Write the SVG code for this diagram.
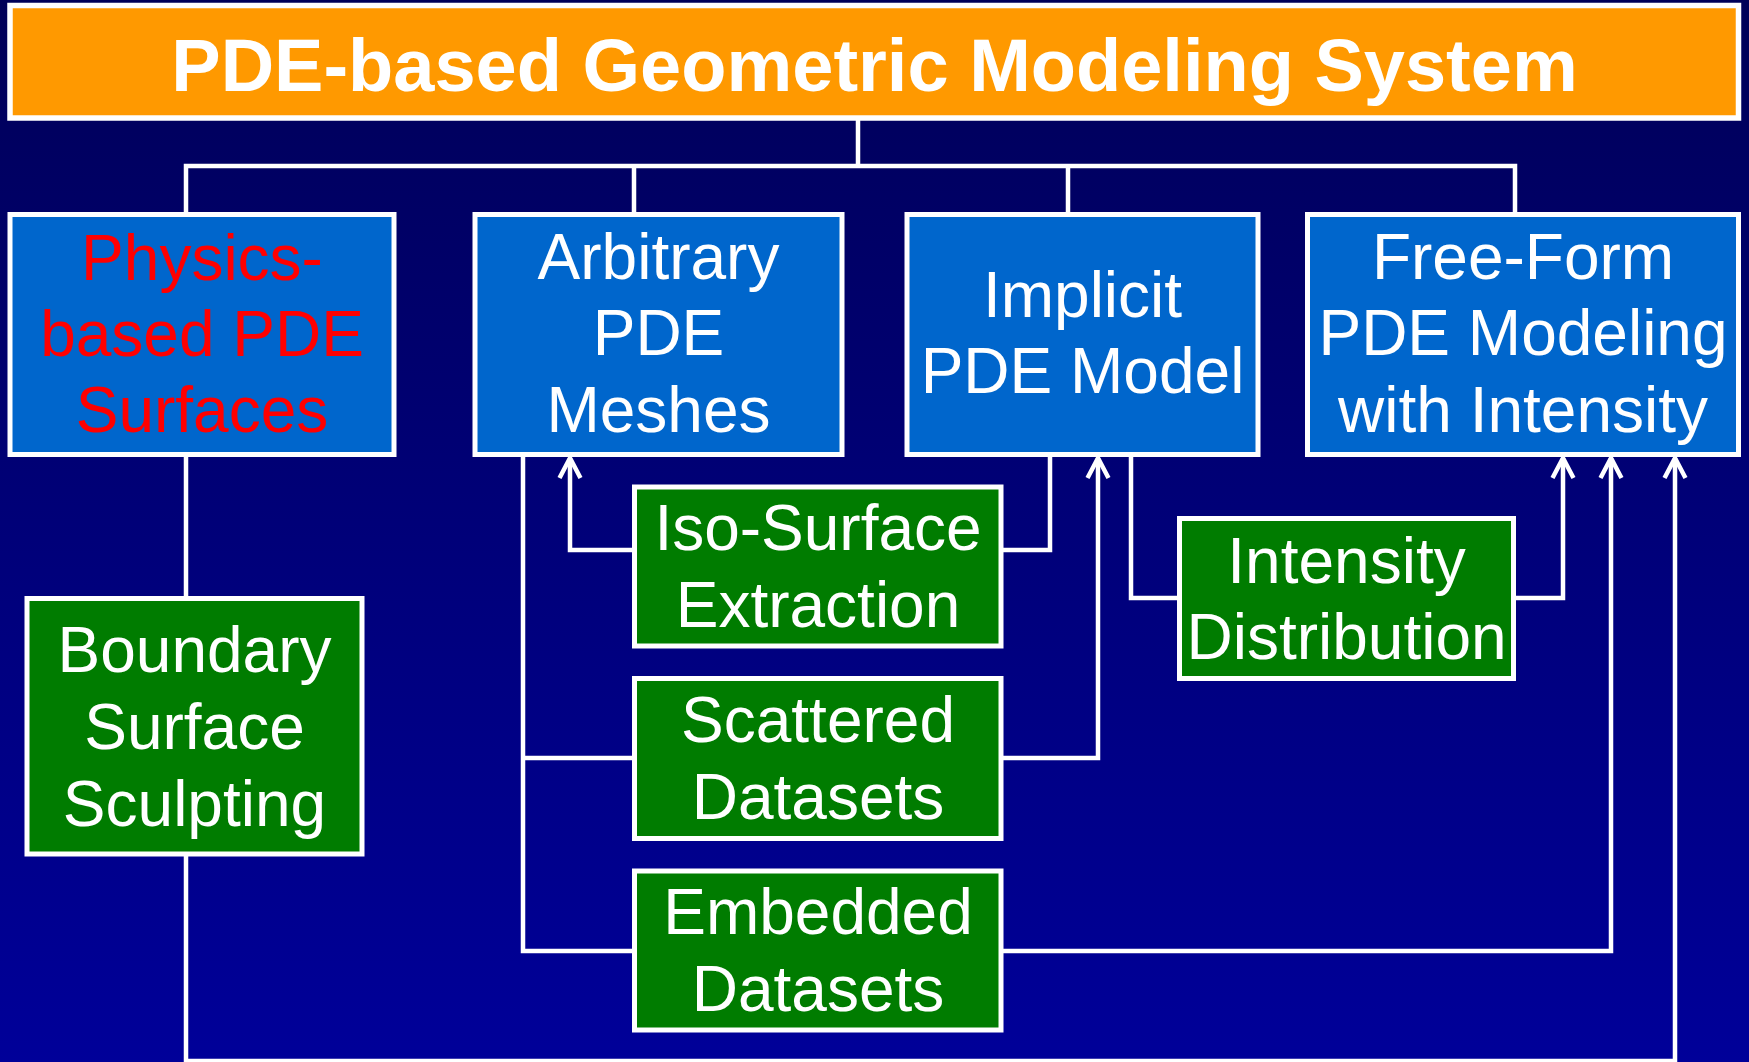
<svg xmlns="http://www.w3.org/2000/svg" width="1749" height="1062" viewBox="0 0 1749 1062">
  <defs>
    <linearGradient id="bg" x1="0" y1="0" x2="0" y2="1">
      <stop offset="0" stop-color="#000058"/>
      <stop offset="1" stop-color="#000099"/>
    </linearGradient>
    <marker id="arrow" markerUnits="userSpaceOnUse" viewBox="-26 -16 32 32" refX="0" refY="0" markerWidth="32" markerHeight="32" orient="auto">
      <path d="M -20,-10.5 L 0,0 L -20,10.5" fill="none" stroke="#ffffff" stroke-width="4.5" stroke-linejoin="miter"/>
    </marker>
  </defs>
  <style>
    .title-box { fill: #FF9900; stroke: #ffffff; stroke-width: 5.5; }
    .blue { fill: #0066CC; stroke: #ffffff; stroke-width: 5; }
    .green { fill: #007C00; stroke: #ffffff; stroke-width: 5; }
    .title { font-family: "Liberation Sans", Arial, sans-serif; font-weight: bold; font-size: 74px; fill: #ffffff; text-anchor: middle; }
    .lbl { font-family: "Liberation Sans", Arial, sans-serif; font-size: 64px; fill: #ffffff; text-anchor: middle; }
    .red { fill: #FF0000; }
    .conn { fill: none; stroke: #ffffff; stroke-width: 4.5; stroke-linejoin: miter; stroke-linecap: square; }
    .arr { fill: none; stroke: #ffffff; stroke-width: 4.5; stroke-linejoin: miter; marker-end: url(#arrow); }
  </style>
  <rect x="0" y="0" width="1749" height="1062" fill="url(#bg)"/>

  <g id="connectors">
    <path class="conn" d="M 858,118 V 166 M 186,214 V 166 H 1515 V 214 M 634,166 V 214 M 1068,166 V 214"/>
    <path class="conn" d="M 186,455 V 598"/>
    <path class="conn" d="M 523,455 V 951 H 634 M 523,758 H 634"/>
    <path class="arr" d="M 634,550 H 570 V 458"/>
    <path class="conn" d="M 1001,550 H 1050 V 455"/>
    <path class="arr" d="M 1001,758 H 1098 V 458"/>
    <path class="conn" d="M 1131,455 V 598 H 1179"/>
    <path class="arr" d="M 1514,598 H 1563 V 458"/>
    <path class="arr" d="M 1001,951 H 1611 V 458"/>
    <path class="arr" d="M 186,855 V 1061 H 1675 V 458"/>
  </g>

  <g id="title">
    <rect class="title-box" x="10" y="5.5" width="1728.5" height="112.5"/>
    <text class="title" x="874.5" y="91">PDE-based Geometric Modeling System</text>
  </g>

  <g id="physics">
    <rect class="blue" x="10" y="214.5" width="384" height="240"/>
    <text class="lbl red" x="202" y="280">Physics-</text>
    <text class="lbl red" x="202" y="356">based PDE</text>
    <text class="lbl red" x="202" y="432">Surfaces</text>
  </g>

  <g id="arbitrary">
    <rect class="blue" x="475" y="214.5" width="367" height="240"/>
    <text class="lbl" x="658.5" y="279">Arbitrary</text>
    <text class="lbl" x="658.5" y="355">PDE</text>
    <text class="lbl" x="658.5" y="432">Meshes</text>
  </g>

  <g id="implicit">
    <rect class="blue" x="907" y="214.5" width="351" height="240"/>
    <text class="lbl" x="1082.5" y="317">Implicit</text>
    <text class="lbl" x="1082.5" y="393">PDE Model</text>
  </g>

  <g id="freeform">
    <rect class="blue" x="1307.5" y="214.5" width="431" height="240"/>
    <text class="lbl" x="1523" y="279">Free-Form</text>
    <text class="lbl" x="1523" y="355">PDE Modeling</text>
    <text class="lbl" x="1523" y="432">with Intensity</text>
  </g>

  <g id="boundary">
    <rect class="green" x="27" y="598.5" width="335" height="255.5"/>
    <text class="lbl" x="194.5" y="672">Boundary</text>
    <text class="lbl" x="194.5" y="749">Surface</text>
    <text class="lbl" x="194.5" y="826">Sculpting</text>
  </g>

  <g id="isosurface">
    <rect class="green" x="634.5" y="487" width="366.5" height="159"/>
    <text class="lbl" x="818" y="550">Iso-Surface</text>
    <text class="lbl" x="818" y="627">Extraction</text>
  </g>

  <g id="scattered">
    <rect class="green" x="634.5" y="678.5" width="366.5" height="160"/>
    <text class="lbl" x="818" y="742">Scattered</text>
    <text class="lbl" x="818" y="819">Datasets</text>
  </g>

  <g id="embedded">
    <rect class="green" x="634.5" y="871" width="366.5" height="159"/>
    <text class="lbl" x="818" y="934">Embedded</text>
    <text class="lbl" x="818" y="1011">Datasets</text>
  </g>

  <g id="intensity">
    <rect class="green" x="1179.5" y="518.5" width="334" height="160"/>
    <text class="lbl" x="1346.5" y="583">Intensity</text>
    <text class="lbl" x="1346.5" y="659">Distribution</text>
  </g>
</svg>
